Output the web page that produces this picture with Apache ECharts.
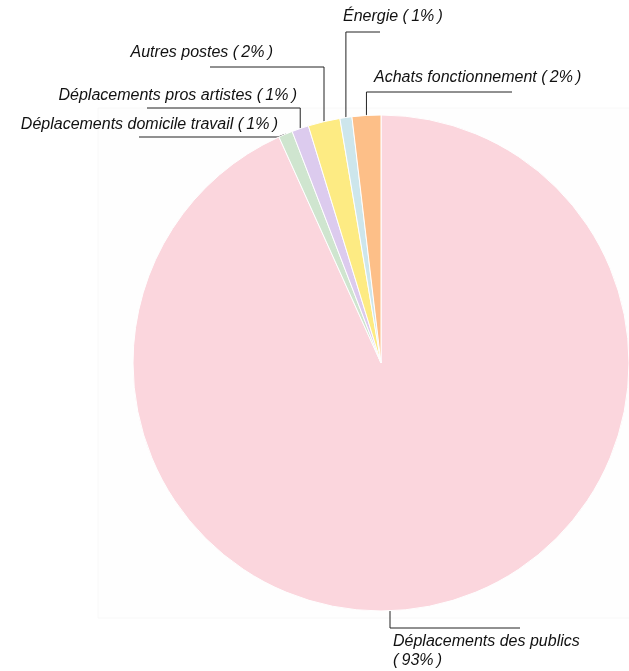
<!DOCTYPE html>
<html>
<head>
<meta charset="utf-8">
<script src="https://cdn.jsdelivr.net/npm/echarts@6/dist/echarts.min.js"></script>
<style>
  html, body { margin: 0; padding: 0; background: #fff; }
  #main { width: 629px; height: 671px; }
</style>
</head>
<body>
<div id="main"></div>
<script>
// postes d'émissions, dans l'ordre horaire depuis midi
const categories = [
  'Déplacements des publics',
  'Déplacements domicile travail',
  'Déplacements pros artistes',
  'Autres postes',
  'Énergie',
  'Achats fonctionnement'
];
const shares = [93.25, 0.92, 1.1, 2.08, 0.78, 1.87];
const colors = ['#fbd6dd', '#cfe5cf', '#dccbee', '#fdeb83', '#cde6ec', '#fdbf88'];

const chart = echarts.init(document.getElementById('main'));

// placement des étiquettes (coude vertical puis trait horizontal)
const labelSpots = [
  { turnY: 628, endX: 520, x: 393, y: 632, align: 'left', va: 'top', startX: 390 },
  { turnY: 137, endX: 139, x: 278, y: 125, align: 'right', va: 'middle', slant: true },
  { turnY: 108, endX: 147, x: 297, y: 96, align: 'right', va: 'middle' },
  { turnY: 67, endX: 210, x: 273, y: 53, align: 'right', va: 'middle' },
  { turnY: 32, endX: 380, x: 343, y: 17, align: 'left', va: 'middle' },
  { turnY: 92, endX: 512, x: 374, y: 78, align: 'left', va: 'middle' }
];

const option = {
  animation: false,
  graphic: [{
    type: 'rect',
    silent: true,
    z: -10,
    shape: { x: 98, y: 108, width: 540, height: 510 },
    style: { fill: '#fefefe', stroke: '#f8f8f8', lineWidth: 1 }
  }],
  series: [{
    type: 'pie',
    center: [381, 363],
    radius: [0, 248],
    startAngle: 90,
    clockwise: true,
    percentPrecision: 0,
    data: categories.map((name, i) => ({
      name: name,
      value: shares[i],
      itemStyle: { color: colors[i] }
    })),
    itemStyle: { borderColor: '#ffffff', borderWidth: 1 },
    label: {
      show: true,
      color: '#111111',
      fontFamily: 'Liberation Sans',
      fontStyle: 'italic',
      fontSize: 16,
      lineHeight: 19,
      overflow: 'none',
      width: 400,
      formatter: p => p.dataIndex === 0
        ? p.name + '\n(\u2009' + p.percent + '%\u2009)'
        : p.name + ' (\u2009' + p.percent + '%\u2009)'
    },
    labelLine: {
      show: true,
      lineStyle: { color: '#222222', width: 1 }
    },
    emphasis: { disabled: true },
    labelLayout: function (params) {
      const s = labelSpots[params.dataIndex];
      const p0 = params.labelLinePoints ? params.labelLinePoints[0] : [s.x, s.turnY];
      let start = [p0[0], p0[1]];
      if (s.startX !== undefined) start = [s.startX, 611];
      let pts;
      if (s.slant) {
        pts = [start, [s.x, s.turnY], [s.endX, s.turnY]];
      } else {
        pts = [start, [start[0], s.turnY], [s.endX, s.turnY]];
      }
      return {
        x: s.x,
        y: s.y,
        align: s.align,
        verticalAlign: s.va,
        labelLinePoints: pts
      };
    }
  }]
};
chart.setOption(option);
</script>
</body>
</html>
